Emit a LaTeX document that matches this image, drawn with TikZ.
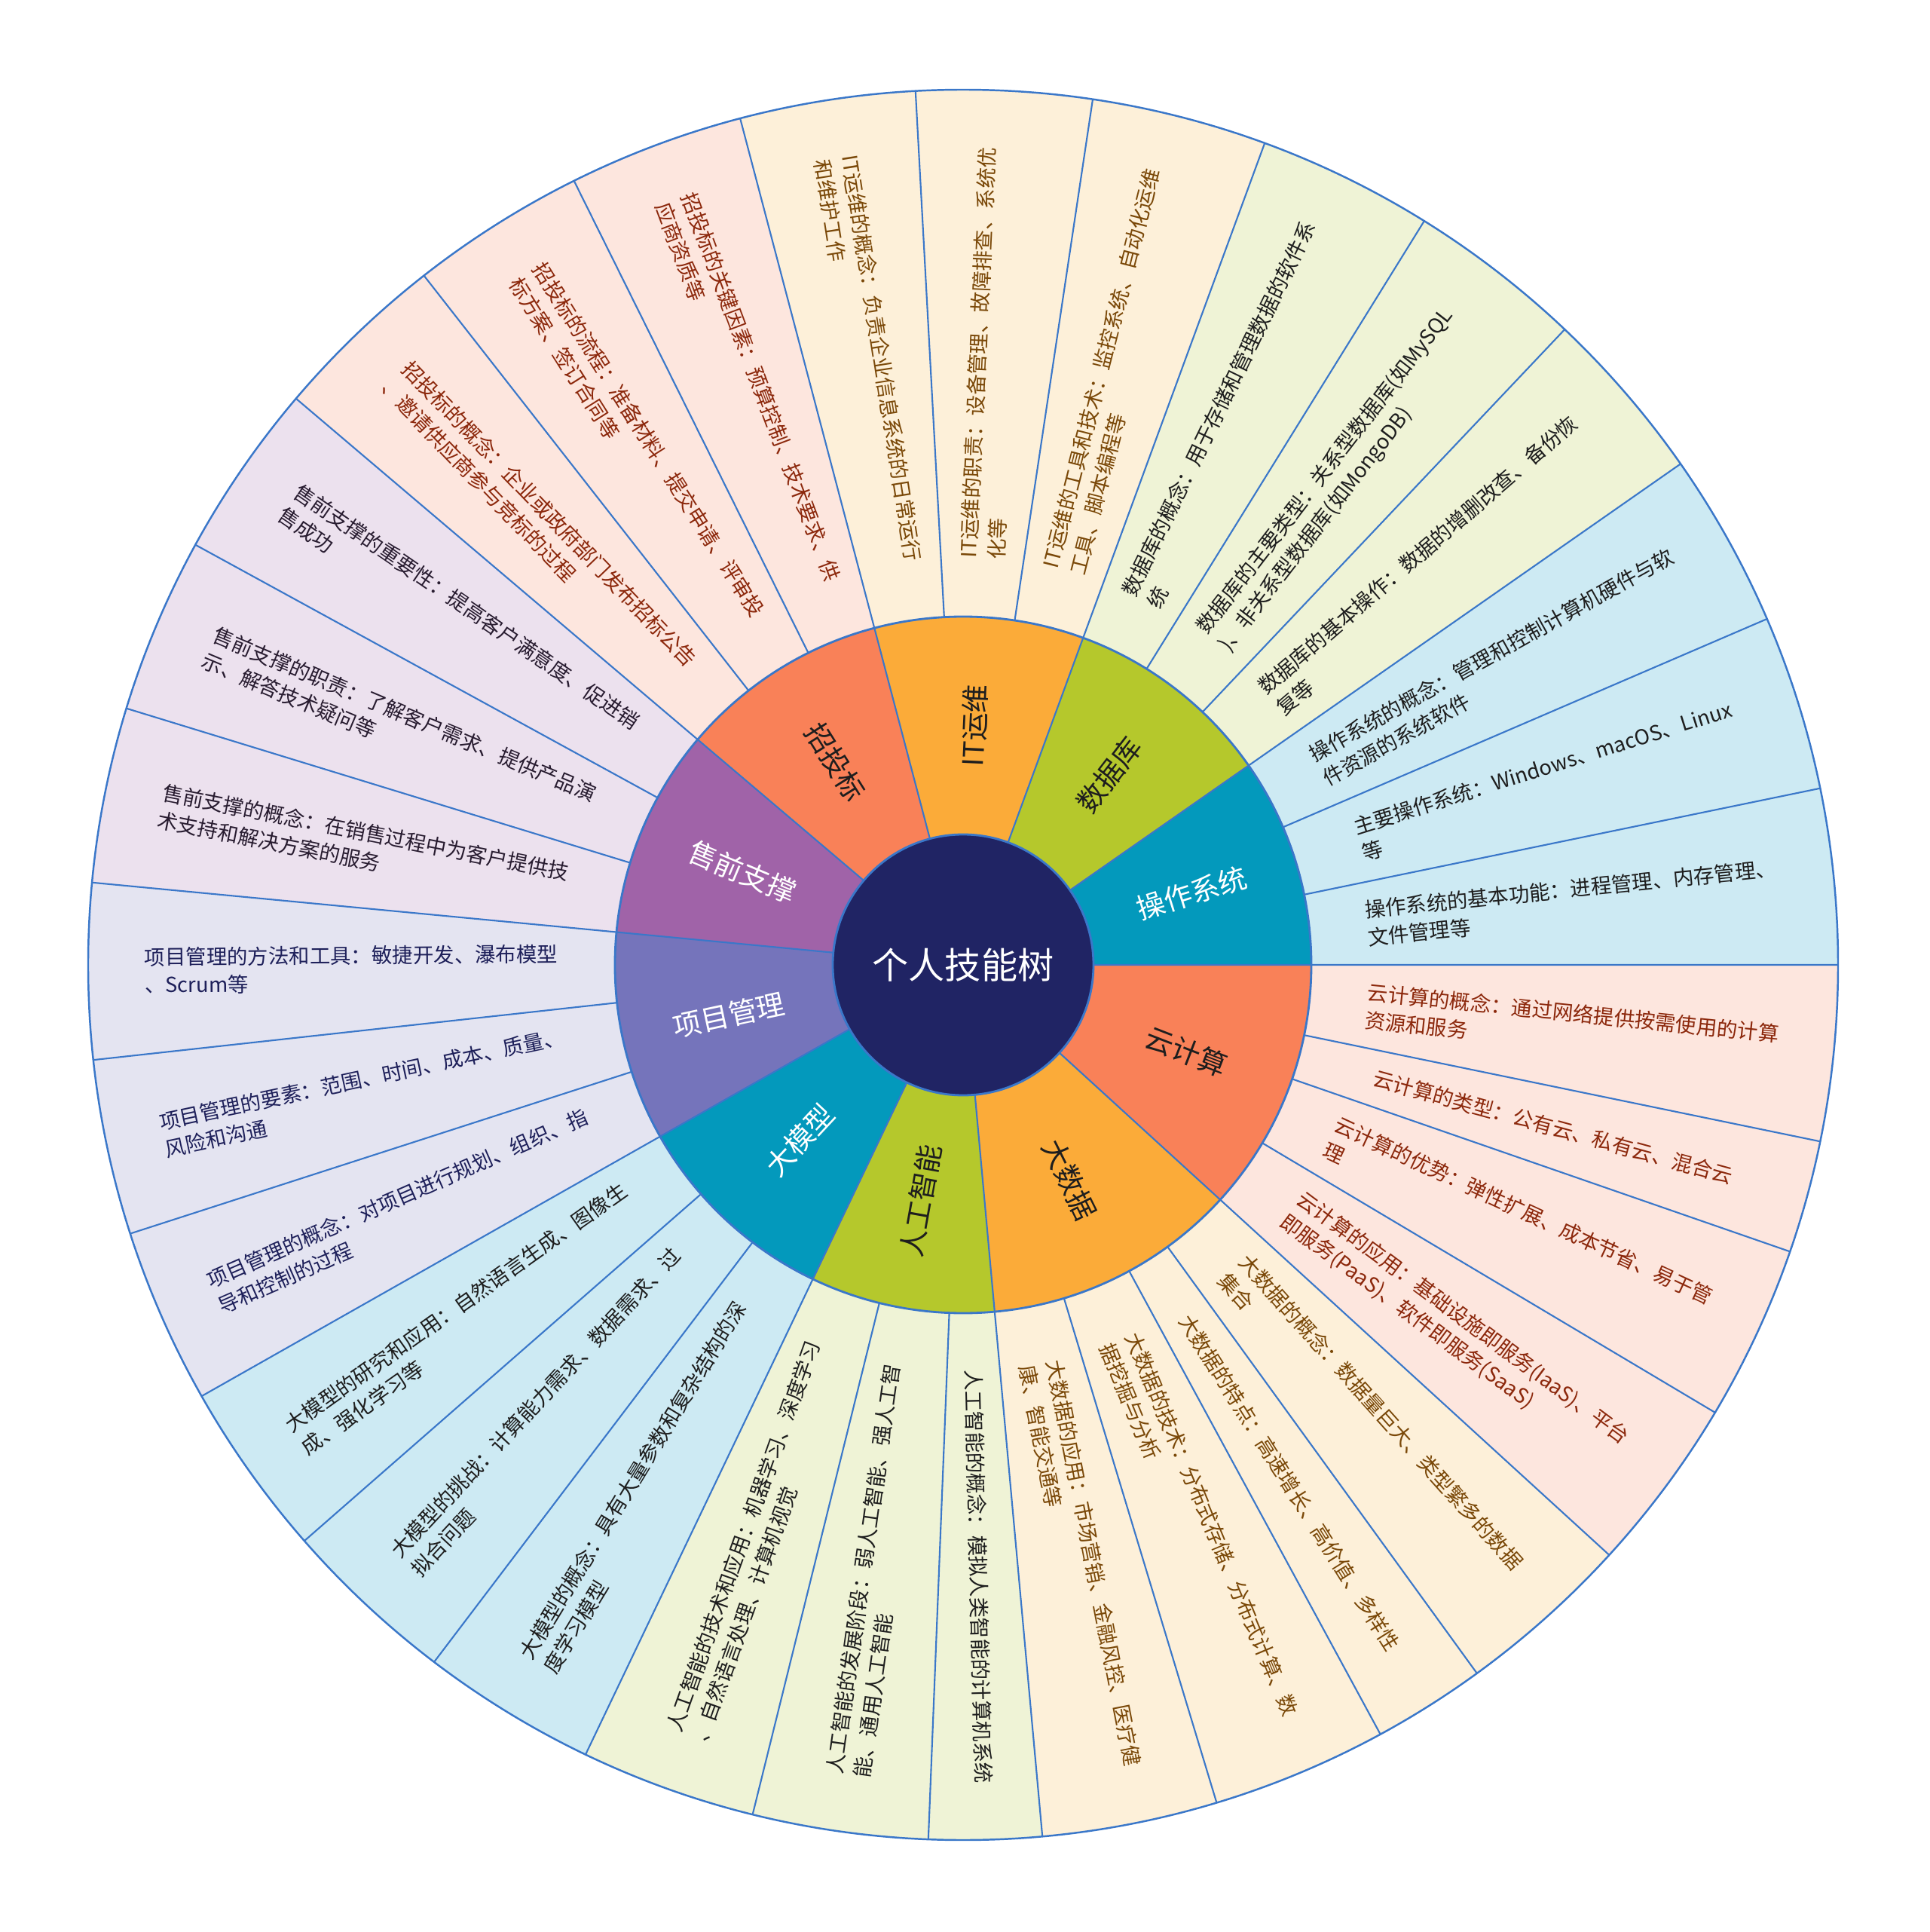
\documentclass[tikz,border=0pt]{standalone}
\usepackage{fontspec}
\setmainfont{Noto Sans CJK SC}
\definecolor{rootblue}{RGB}{32,36,100}
\definecolor{seamblue}{RGB}{58,119,201}
\definecolor{teal}{RGB}{3,153,188}
\definecolor{coral}{RGB}{249,129,88}
\definecolor{amber}{RGB}{251,171,57}
\definecolor{lime}{RGB}{181,200,44}
\definecolor{pmblue}{RGB}{117,116,187}
\definecolor{presale}{RGB}{160,99,168}
\definecolor{tealLight}{RGB}{205,234,243}
\definecolor{coralLight}{RGB}{253,230,222}
\definecolor{amberLight}{RGB}{253,240,217}
\definecolor{limeLight}{RGB}{239,243,214}
\definecolor{pmLight}{RGB}{228,228,241}
\definecolor{presaleLight}{RGB}{236,225,238}
\definecolor{darkText}{RGB}{30,30,30}
\definecolor{amberText}{RGB}{122,72,8}
\definecolor{coralText}{RGB}{140,40,12}
\definecolor{pmText}{RGB}{30,32,90}
\definecolor{presaleText}{RGB}{40,28,48}
\begin{document}
\begin{tikzpicture}[
  leaf/.style={inner sep=0pt, align=left, font=\fontsize{7.8}{10.5}\selectfont},
  hub/.style={inner sep=0pt, font=\fontsize{10.7}{12}\selectfont},
  seam/.style={draw=seamblue, line width=0.6pt},
  hubseam/.style={draw=seamblue, line width=0.8pt}
]
\useasboundingbox (-12.78,-12.83) rectangle (12.82,12.80);
% outer ring
\fill[tealLight] (0,0) -- (0:11.61) arc[start angle=0, end angle=34.92, radius=11.61] -- cycle;
\fill[limeLight] (0,0) -- (34.92:11.61) arc[start angle=34.92, end angle=69.84, radius=11.61] -- cycle;
\fill[amberLight] (0,0) -- (69.84:11.61) arc[start angle=69.84, end angle=104.76, radius=11.61] -- cycle;
\fill[coralLight] (0,0) -- (104.76:11.61) arc[start angle=104.76, end angle=139.68, radius=11.61] -- cycle;
\fill[presaleLight] (0,0) -- (139.68:11.61) arc[start angle=139.68, end angle=174.6, radius=11.61] -- cycle;
\fill[pmLight] (0,0) -- (174.6:11.61) arc[start angle=174.6, end angle=209.52, radius=11.61] -- cycle;
\fill[tealLight] (0,0) -- (209.52:11.61) arc[start angle=209.52, end angle=244.44, radius=11.61] -- cycle;
\fill[limeLight] (0,0) -- (244.44:11.61) arc[start angle=244.44, end angle=275.2, radius=11.61] -- cycle;
\fill[amberLight] (0,0) -- (275.2:11.61) arc[start angle=275.2, end angle=317.6, radius=11.61] -- cycle;
\fill[coralLight] (0,0) -- (317.6:11.61) arc[start angle=317.6, end angle=360, radius=11.61] -- cycle;
\draw[seam] (0:4.62) -- (0:11.61) (11.64:4.62) -- (11.64:11.61) (23.28:4.62) -- (23.28:11.61);
\draw[seam] (34.92:4.62) -- (34.92:11.61) (46.56:4.62) -- (46.56:11.61) (58.2:4.62) -- (58.2:11.61);
\draw[seam] (69.84:4.62) -- (69.84:11.61) (81.48:4.62) -- (81.48:11.61) (93.12:4.62) -- (93.12:11.61);
\draw[seam] (104.76:4.62) -- (104.76:11.61) (116.4:4.62) -- (116.4:11.61) (128.04:4.62) -- (128.04:11.61);
\draw[seam] (139.68:4.62) -- (139.68:11.61) (151.32:4.62) -- (151.32:11.61) (162.96:4.62) -- (162.96:11.61);
\draw[seam] (174.6:4.62) -- (174.6:11.61) (186.24:4.62) -- (186.24:11.61) (197.88:4.62) -- (197.88:11.61);
\draw[seam] (209.52:4.62) -- (209.52:11.61) (221.16:4.62) -- (221.16:11.61) (232.8:4.62) -- (232.8:11.61);
\draw[seam] (244.44:4.62) -- (244.44:11.61) (256.08:4.62) -- (256.08:11.61) (267.72:4.62) -- (267.72:11.61);
\draw[seam] (275.2:4.62) -- (275.2:11.61) (286.84:4.62) -- (286.84:11.61) (298.48:4.62) -- (298.48:11.61) (305.96:4.62) -- (305.96:11.61);
\draw[seam] (317.6:4.62) -- (317.6:11.61) (329.24:4.62) -- (329.24:11.61) (340.88:4.62) -- (340.88:11.61) (348.36:4.62) -- (348.36:11.61);
\draw[seam, line width=0.7pt] (0,0) circle[radius=11.61];
% inner ring
\fill[teal] (0,0) -- (0:4.62) arc[start angle=0, end angle=34.92, radius=4.62] -- cycle;
\fill[lime] (0,0) -- (34.92:4.62) arc[start angle=34.92, end angle=69.84, radius=4.62] -- cycle;
\fill[amber] (0,0) -- (69.84:4.62) arc[start angle=69.84, end angle=104.76, radius=4.62] -- cycle;
\fill[coral] (0,0) -- (104.76:4.62) arc[start angle=104.76, end angle=139.68, radius=4.62] -- cycle;
\fill[presale] (0,0) -- (139.68:4.62) arc[start angle=139.68, end angle=174.6, radius=4.62] -- cycle;
\fill[pmblue] (0,0) -- (174.6:4.62) arc[start angle=174.6, end angle=209.52, radius=4.62] -- cycle;
\fill[teal] (0,0) -- (209.52:4.62) arc[start angle=209.52, end angle=244.44, radius=4.62] -- cycle;
\fill[lime] (0,0) -- (244.44:4.62) arc[start angle=244.44, end angle=275.2, radius=4.62] -- cycle;
\fill[amber] (0,0) -- (275.2:4.62) arc[start angle=275.2, end angle=317.6, radius=4.62] -- cycle;
\fill[coral] (0,0) -- (317.6:4.62) arc[start angle=317.6, end angle=360, radius=4.62] -- cycle;
\draw[seam] (0:1.73) -- (0:4.62) (34.92:1.73) -- (34.92:4.62) (69.84:1.73) -- (69.84:4.62) (104.76:1.73) -- (104.76:4.62) (139.68:1.73) -- (139.68:4.62);
\draw[seam] (174.6:1.73) -- (174.6:4.62) (209.52:1.73) -- (209.52:4.62) (244.44:1.73) -- (244.44:4.62) (275.2:1.73) -- (275.2:4.62) (317.6:1.73) -- (317.6:4.62);
\draw[hubseam] (0,0) circle[radius=4.62];
\node[circle, fill=rootblue, hubseam, minimum size=3.46cm, inner sep=0pt, text=white, font=\fontsize{13.7}{15}\selectfont] (root) at (0,0) {个人技能树};
% categories
\node[hub, text=white, rotate=17.46] (os) at (17.46:3.18) {操作系统};
\node[hub, text=darkText, rotate=52.38] (db) at (52.38:3.18) {数据库};
\node[hub, text=darkText, rotate=87.3] (it) at (87.3:3.18) {IT运维};
\node[hub, text=darkText, rotate=-57.78] (zb) at (122.22:3.18) {招投标};
\node[hub, text=white, rotate=-22.86] (sq) at (157.14:3.18) {售前支撑};
\node[hub, text=white, rotate=12.06] (pm) at (192.06:3.18) {项目管理};
\node[hub, text=white, rotate=46.98] (lm) at (226.98:3.18) {大模型};
\node[hub, text=darkText, rotate=79.82] (ai) at (259.82:3.18) {人工智能};
\node[hub, text=darkText, rotate=296.4] (bd) at (296.4:3.18) {大数据};
\node[hub, text=darkText, rotate=338.8] (cc) at (338.8:3.18) {云计算};
% 操作系统
\node[leaf, text=darkText, rotate=5.82] (os1) at (5.82:8.12) {操作系统的基本功能：进程管理、内存管理、\\文件管理等};
\node[leaf, text=darkText, rotate=17.46] (os2) at (17.46:8.12) {主要操作系统：Windows、macOS、Linux\\等};
\node[leaf, text=darkText, rotate=29.1] (os3) at (29.1:8.12) {操作系统的概念：管理和控制计算机硬件与软\\件资源的系统软件};
% 数据库
\node[leaf, text=darkText, rotate=40.74] (db1) at (40.74:8.12) {数据库的基本操作：数据的增删改查、备份恢\\复等};
\node[leaf, text=darkText, rotate=52.38] (db2) at (52.38:8.12) {数据库的主要类型：关系型数据库(如MySQL\\)、非关系型数据库(如MongoDB)};
\node[leaf, text=darkText, rotate=64.02] (db3) at (64.02:8.12) {数据库的概念：用于存储和管理数据的软件系\\统};
% IT运维
\node[leaf, text=amberText, rotate=75.66] (it1) at (75.66:8.12) {IT运维的工具和技术：监控系统、自动化运维\\工具、脚本编程等};
\node[leaf, text=amberText, rotate=87.3] (it2) at (87.3:8.12) {IT运维的职责：设备管理、故障排查、系统优\\化等};
\node[leaf, text=amberText, rotate=-81.06] (it3) at (98.94:8.12) {IT运维的概念：负责企业信息系统的日常运行\\和维护工作};
% 招投标
\node[leaf, text=coralText, rotate=-69.42] (zb1) at (110.58:8.12) {招投标的关键因素：预算控制、技术要求、供\\应商资质等};
\node[leaf, text=coralText, rotate=-57.78] (zb2) at (122.22:8.12) {招投标的流程：准备材料、提交申请、评审投\\标方案、签订合同等};
\node[leaf, text=coralText, rotate=-46.14] (zb3) at (133.86:8.12) {招投标的概念：企业或政府部门发布招标公告\\、邀请供应商参与竞标的过程};
% 售前支撑
\node[leaf, text=presaleText, rotate=-34.5] (sq1) at (145.5:8.12) {售前支撑的重要性：提高客户满意度、促进销\\售成功};
\node[leaf, text=presaleText, rotate=-22.86] (sq2) at (157.14:8.12) {售前支撑的职责：了解客户需求、提供产品演\\示、解答技术疑问等};
\node[leaf, text=presaleText, rotate=-11.22] (sq3) at (168.78:8.12) {售前支撑的概念：在销售过程中为客户提供技\\术支持和解决方案的服务};
% 项目管理
\node[leaf, text=pmText, rotate=0.42] (pm1) at (180.42:8.12) {项目管理的方法和工具：敏捷开发、瀑布模型\\、Scrum等};
\node[leaf, text=pmText, rotate=12.06] (pm2) at (192.06:8.12) {项目管理的要素：范围、时间、成本、质量、\\风险和沟通};
\node[leaf, text=pmText, rotate=23.7] (pm3) at (203.7:8.12) {项目管理的概念：对项目进行规划、组织、指\\导和控制的过程};
% 大模型
\node[leaf, text=darkText, rotate=35.34] (lm1) at (215.34:8.12) {大模型的研究和应用：自然语言生成、图像生\\成、强化学习等};
\node[leaf, text=darkText, rotate=46.98] (lm2) at (226.98:8.12) {大模型的挑战：计算能力需求、数据需求、过\\拟合问题};
\node[leaf, text=darkText, rotate=58.62] (lm3) at (238.62:8.12) {大模型的概念：具有大量参数和复杂结构的深\\度学习模型};
% 人工智能
\node[leaf, text=darkText, rotate=70.26] (ai1) at (250.26:8.12) {人工智能的技术和应用：机器学习、深度学习\\、自然语言处理、计算机视觉};
\node[leaf, text=darkText, rotate=81.9] (ai2) at (261.9:8.12) {人工智能的发展阶段：弱人工智能、强人工智\\能、通用人工智能};
\node[leaf, text=darkText, rotate=271.46] (ai3) at (271.46:8.12) {人工智能的概念：模拟人类智能的计算机系统};
% 大数据
\node[leaf, text=amberText, rotate=281.02] (bd1) at (281.02:8.12) {大数据的应用：市场营销、金融风控、医疗健\\康、智能交通等};
\node[leaf, text=amberText, rotate=292.66] (bd2) at (292.66:8.12) {大数据的技术：分布式存储、分布式计算、数\\据挖掘与分析};
\node[leaf, text=amberText, rotate=302.22] (bd3) at (302.22:8.12) {大数据的特点：高速增长、高价值、多样性};
\node[leaf, text=amberText, rotate=311.78] (bd4) at (311.78:8.12) {大数据的概念：数据量巨大、类型繁多的数据\\集合};
% 云计算
\node[leaf, text=coralText, rotate=323.42] (cc1) at (323.42:8.12) {云计算的应用：基础设施即服务(IaaS)、平台\\即服务(PaaS)、软件即服务(SaaS)};
\node[leaf, text=coralText, rotate=335.06] (cc2) at (335.06:8.12) {云计算的优势：弹性扩展、成本节省、易于管\\理};
\node[leaf, text=coralText, rotate=344.62] (cc3) at (344.62:8.12) {云计算的类型：公有云、私有云、混合云};
\node[leaf, text=coralText, rotate=354.18] (cc4) at (354.18:8.12) {云计算的概念：通过网络提供按需使用的计算\\资源和服务};
\end{tikzpicture}
\end{document}
